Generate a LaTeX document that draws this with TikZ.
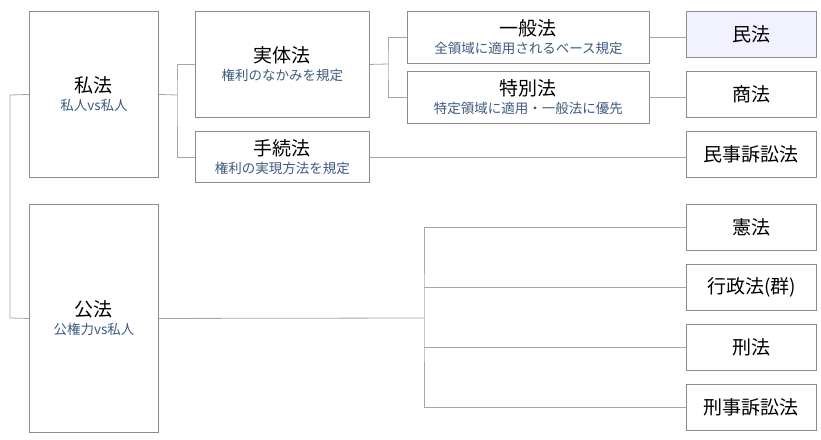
\documentclass[tikz,border=0pt]{standalone}
\usepackage{fontspec}
\setmainfont{Noto Sans CJK JP}
\definecolor{subc}{HTML}{3D5A80}
\begin{document}
\begin{tikzpicture}[x=1pt,y=-1pt,
  bx/.style={draw=black!45,line width=0.9pt,inner sep=0pt,anchor=north west,align=center,font=\fontsize{19}{21}\selectfont},
  ln/.style={draw=black!35,line width=0.8pt}]
\newcommand{\Sb}[1]{\\[-3pt]{\fontsize{13.5}{15}\selectfont\color{subc}#1}}
\useasboundingbox (0,0) rectangle (821,439);
\node[bx,minimum width=129pt,minimum height=166pt] (shiho) at (29,11) {私法\Sb{私人vs私人}};
\node[bx,minimum width=129pt,minimum height=228pt] (koho) at (29,204) {公法\Sb{公権力vs私人}};
\node[bx,minimum width=174pt,minimum height=106pt] (jittai) at (195,11) {実体法\Sb{権利のなかみを規定}};
\node[bx,minimum width=174pt,minimum height=51pt] (tetsuzuki) at (195,131) {手続法\Sb{権利の実現方法を規定}};
\node[bx,minimum width=242pt,minimum height=52pt] (ippan) at (407,11) {一般法\Sb{全領域に適用されるベース規定}};
\node[bx,minimum width=242pt,minimum height=52pt] (tokubetsu) at (407,71) {特別法\Sb{特定領域に適用・一般法に優先}};
\node[bx,minimum width=130pt,minimum height=46pt,fill=blue!5!white] (minpo) at (686,11) {民法};
\node[bx,minimum width=130pt,minimum height=46pt] (shoho) at (686,71) {商法};
\node[bx,minimum width=130pt,minimum height=46pt] (minso) at (686,131) {民事訴訟法};
\node[bx,minimum width=130pt,minimum height=46pt] (kenpo) at (686,204) {憲法};
\node[bx,minimum width=130pt,minimum height=46pt] (gyosei) at (686,264) {行政法(群)};
\node[bx,minimum width=130pt,minimum height=46pt] (keiho) at (686,324) {刑法};
\node[bx,minimum width=130pt,minimum height=46pt] (keiso) at (686,384) {刑事訴訟法};
\coordinate (s1) at (10,95);
\coordinate (s2) at (10,318);
\draw[ln] (shiho.west) -- (s1) -- (s2) -- (koho.west);
\coordinate (a) at (177,95);
\draw[ln] (shiho.east) -- (a);
\draw[ln] (jittai.west) -| (a) |- (tetsuzuki.west);
\coordinate (b) at (388,64);
\draw[ln] (jittai.east) -- (b);
\draw[ln] (ippan.west) -| (b) |- (tokubetsu.west);
\draw[ln] (ippan.east) -- (ippan.east -| minpo.west);
\draw[ln] (tokubetsu.east) -- (tokubetsu.east -| shoho.west);
\draw[ln] (tetsuzuki.east) -- (tetsuzuki.east -| minso.west);
\coordinate (c) at (424,318);
\draw[ln] (koho.east) -- (c);
\draw[ln] (kenpo.west) -| (c) |- (keiso.west);
\draw[ln] (gyosei.west) -- (gyosei.west -| c);
\draw[ln] (keiho.west) -- (keiho.west -| c);
\end{tikzpicture}
\end{document}
